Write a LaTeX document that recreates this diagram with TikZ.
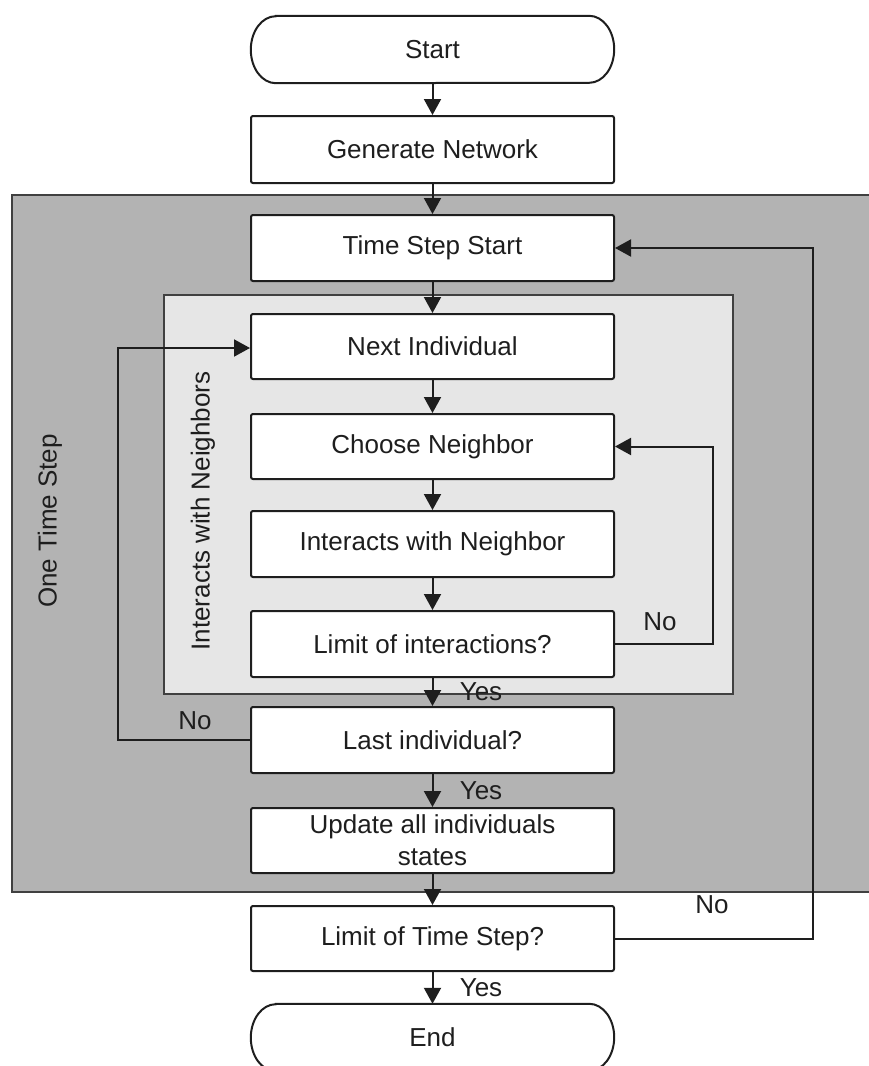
\documentclass[tikz,border=0pt]{standalone}
\usepackage{fontspec}
\setmainfont{Liberation Sans}
\usetikzlibrary{arrows.meta}
\definecolor{ink}{HTML}{1E1E1E}
\definecolor{stepgray}{HTML}{B3B3B3}
\definecolor{loopgray}{HTML}{E6E6E6}
\begin{document}
\begin{tikzpicture}[x=1pt,y=1pt,
  every node/.style={font=\fontsize{26}{32}\selectfont, text=ink},
  procbox/.style={draw=ink, line width=2pt, fill=white, rounded corners=2pt,
    minimum width=363pt, minimum height=65pt, inner sep=0pt, align=center},
  termbox/.style={minimum width=363pt, minimum height=67pt, inner sep=0pt},
  flow/.style={draw=ink, line width=2pt, -{Triangle[length=16pt,width=17pt]}},
  region/.style={draw=ink!85, line width=2.5pt},
  lbl/.style={inner sep=0pt}
]
\useasboundingbox (0,0) rectangle (869,-1066);

% shaded regions: the whole time step and the neighbour loop
\draw[region, fill=stepgray] (12,-195) rectangle (885,-892);
\draw[region, fill=loopgray] (164,-295) rectangle (733,-694);
\node[lbl, rotate=90] (onestep) at (50,-521) {One Time Step};
\node[lbl, rotate=90] (withnb) at (203,-511) {Interacts with Neighbors};

% terminators
\node[termbox] (start) at (432.5,-49.5) {Start};
\node[termbox] (end) at (432.5,-1037.5) {End};
\foreach \t in {start,end}{
  \draw[ink, line width=2pt]
    ([xshift=25pt]\t.north west) -- ([xshift=-25pt]\t.north east)
    arc[start angle=90, end angle=-90, x radius=25pt, y radius=33.5pt]
    -- ([xshift=25pt]\t.south west)
    arc[start angle=270, end angle=90, x radius=25pt, y radius=33.5pt]
    -- cycle;
}

% process steps
\node[procbox, minimum height=67pt] (gen) at (432.5,-149.5) {Generate Network};
\node[procbox, minimum height=66pt] (tss) at (432.5,-248) {Time Step Start};
\node[procbox] (next) at (432.5,-346.5) {Next Individual};
\node[procbox] (choose) at (432.5,-446.5) {Choose Neighbor};
\node[procbox, minimum height=66pt] (inter) at (432.5,-544) {Interacts with Neighbor};
\node[procbox, minimum height=66pt] (limi) at (432.5,-644) {Limit of interactions?};
\node[procbox, minimum height=66pt] (last) at (432.5,-740) {Last individual?};
\node[procbox] (upd) at (432.5,-840.5) {Update all individuals\\states};
\node[procbox] (limt) at (432.5,-938.5) {Limit of Time Step?};

% main flow
\draw[flow] (start) -- (gen);
\draw[flow] (gen) -- (tss);
\draw[flow] (tss) -- (next);
\draw[flow] (next) -- (choose);
\draw[flow] (choose) -- (inter);
\draw[flow] (inter) -- (limi);
\draw[flow] (limi) -- (last);
\draw[flow] (last) -- (upd);
\draw[flow] (upd) -- (limt);
\draw[flow] (limt) -- (end);

% feedback loops
\draw[flow] (limi.east) -- ++(98,0) |- (choose.east);
\draw[flow] (last.west) -- ++(-132,0) |- ([yshift=-1.5pt]next.west);
\draw[flow] (limt.east) -- ++(198,0) |- (tss.east);

% branch labels
\node[lbl] (no1) at (660,-622) {No};
\node[lbl] (no2) at (195,-721) {No};
\node[lbl] (no3) at (712,-905) {No};
\node[lbl] (yes1) at (481,-692) {Yes};
\node[lbl] (yes2) at (481,-791) {Yes};
\node[lbl] (yes3) at (481,-988) {Yes};
\end{tikzpicture}
\end{document}
